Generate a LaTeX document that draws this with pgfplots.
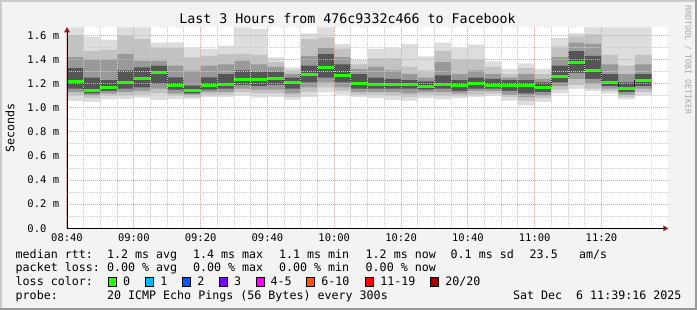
\documentclass[border=0pt]{standalone}
\usepackage{pgfplots}
\pgfplotsset{compat=1.18}
\usepackage{pgfplotstable}
\usepackage{fontspec}
\setmainfont{DejaVu Sans Mono}
\newfontfamily\mono{DejaVu Sans Mono}
\usetikzlibrary{arrows.meta}
\definecolor{bg}{HTML}{F3F3F3}
\definecolor{shadea}{HTML}{CBCBCB}
\definecolor{shadeb}{HTML}{999999}
\definecolor{cA}{HTML}{DDDDDD}
\definecolor{cB}{HTML}{C2C2C2}
\definecolor{cC}{HTML}{999999}
\definecolor{cD}{HTML}{555555}
\definecolor{medline}{HTML}{202020}
\definecolor{lgreen}{HTML}{26FF00}
\definecolor{lcyan}{HTML}{00B8FF}
\definecolor{lblue}{HTML}{0059FF}
\definecolor{lpurple}{HTML}{7E00FF}
\definecolor{lmag}{HTML}{FF00FF}
\definecolor{lorange}{HTML}{FF5500}
\definecolor{lred}{HTML}{FF0000}
\definecolor{ldred}{HTML}{A10000}
\definecolor{gridc}{HTML}{CCCCCC}
\definecolor{mgridc}{HTML}{EBA0A0}
\definecolor{arrowc}{HTML}{8B1A1A}
\definecolor{wm}{HTML}{A8A8A8}
\newcommand\lgf{\mono\fontsize{11.66}{14}\selectfont}
\newcommand\tkf{\mono\fontsize{10.5}{12}\selectfont}

\pgfplotstableread{
x   lo1   lo2  lo3  lo4  med   hi4   hi3   hi2   hi1
0   1.056 1.10 1.13 1.16 1.217 1.33  1.42  1.60  1.668
5   1.05  1.08 1.10 1.12 1.142 1.25  1.40  1.47  1.59
10  1.07  1.10 1.12 1.14 1.167 1.23  1.40  1.48  1.565
15  1.073 1.10 1.13 1.16 1.208 1.31  1.446 1.598 1.668
20  1.084 1.11 1.14 1.17 1.239 1.336 1.39  1.571 1.668
25  1.065 1.12 1.16 1.20 1.291 1.35  1.39  1.50  1.54
30  1.073 1.10 1.12 1.15 1.183 1.253 1.35  1.50  1.543
35  1.073 1.09 1.11 1.12 1.142 1.183 1.308 1.419 1.50
40  1.09  1.11 1.13 1.15 1.183 1.253 1.35  1.43  1.488
45  1.09  1.11 1.13 1.16 1.192 1.28  1.36  1.446 1.515
50  1.10  1.13 1.16 1.19 1.233 1.31  1.39  1.45  1.668
55  1.084 1.12 1.15 1.18 1.231 1.30  1.36  1.44  1.655
60  1.09  1.12 1.15 1.19 1.245 1.30  1.34  1.38  1.419
65  1.067 1.09 1.12 1.16 1.206 1.25  1.28  1.31  1.336
70  1.09  1.13 1.17 1.21 1.28  1.35  1.43  1.57  1.618
75  1.128 1.17 1.21 1.25 1.336 1.446 1.50  1.585 1.668
80  1.11  1.14 1.17 1.21 1.267 1.36  1.42  1.49  1.529
85  1.09  1.11 1.13 1.16 1.198 1.28  1.32  1.36  1.397
90  1.08  1.11 1.13 1.16 1.192 1.25  1.34  1.41  1.488
95  1.065 1.10 1.13 1.16 1.19  1.24  1.31  1.41  1.50
100 1.06  1.09 1.12 1.16 1.19  1.23  1.28  1.34  1.529
105 1.08  1.11 1.13 1.15 1.175 1.22  1.25  1.31  1.427
110 1.07  1.10 1.13 1.16 1.19  1.27  1.38  1.47  1.54
115 1.08  1.10 1.12 1.14 1.183 1.23  1.28  1.40  1.50
120 1.09  1.11 1.14 1.16 1.198 1.25  1.31  1.40  1.524
125 1.10  1.12 1.14 1.16 1.189 1.24  1.28  1.34  1.386
130 1.06  1.09 1.11 1.14 1.189 1.23  1.25  1.28  1.322
135 1.02  1.06 1.09 1.12 1.181 1.23  1.28  1.33  1.369
140 1.05  1.08 1.10 1.13 1.17  1.21  1.24  1.28  1.322
145 1.12  1.15 1.18 1.21 1.261 1.35  1.42  1.51  1.579
150 1.156 1.19 1.24 1.29 1.378 1.47  1.54  1.59  1.618
155 1.14  1.16 1.20 1.24 1.308 1.43  1.53  1.61  1.668
160 1.12  1.14 1.16 1.18 1.214 1.28  1.36  1.44  1.668
165 1.07  1.09 1.11 1.13 1.161 1.21  1.28  1.35  1.668
170 1.10  1.13 1.16 1.18 1.225 1.28  1.36  1.44  1.668
175 1.10  1.13 1.16 1.18 1.225 1.28  1.36  1.44  1.668
}\smoke

\begin{document}
\begin{tikzpicture}
\path[use as bounding box] (0pt,0pt) rectangle (697pt,-310pt);
\fill[bg] (0pt,0pt) rectangle (697pt,-310pt);
\fill[shadea] (0pt,0pt) rectangle (697pt,-2pt);
\fill[shadea] (0pt,0pt) rectangle (2pt,-310pt);
\fill[shadeb] (0pt,-308pt) rectangle (697pt,-310pt);
\fill[shadeb] (695pt,0pt) rectangle (697pt,-310pt);

\begin{axis}[
  at={(67pt,-228.3pt)}, anchor=south west,
  scale only axis, width=601.3pt, height=201pt,
  xmin=0, xmax=180, ymin=0, ymax=1.668,
  axis background/.style={fill=white},
  axis on top,
  axis lines=left,
  axis line style={line width=0.9pt, black, -{Triangle[length=5pt,width=5.5pt,color=arrowc]}},
  xtick={0,20,...,160},
  xticklabels={08:40,09:00,09:20,09:40,10:00,10:20,10:40,11:00,11:20},
  ytick={0,0.2,0.4,0.6,0.8,1.0,1.2,1.4,1.6},
  yticklabels={0.0\hphantom{\ m},0.2 m,0.4 m,0.6 m,0.8 m,1.0 m,1.2 m,1.4 m,1.6 m},
  minor x tick num=3, minor y tick num=1,
  tick align=inside, major tick length=0pt, minor tick length=0pt,
  grid=both,
  major grid style={mgridc, line width=1pt, dash pattern=on 1pt off 1pt},
  minor grid style={gridc, line width=1pt, dash pattern=on 1pt off 1pt},
  xticklabel style={font=\tkf, anchor=base, inner sep=0pt, yshift=-13.4pt},
  yticklabel style={font=\tkf, anchor=base east, inner sep=0pt, xshift=-7.7pt, yshift=-3.8pt},
  clip=true,
]
\addplot[const plot, fill=cA, draw=none] table[x=x,y=hi1]{\smoke} \closedcycle;
\addplot[const plot, fill=cB, draw=none] table[x=x,y=hi2]{\smoke} \closedcycle;
\addplot[const plot, fill=cC, draw=none] table[x=x,y=hi3]{\smoke} \closedcycle;
\addplot[const plot, fill=cD, draw=none] table[x=x,y=hi4]{\smoke} \closedcycle;
\addplot[const plot, fill=cC, draw=none] table[x=x,y=lo4]{\smoke} \closedcycle;
\addplot[const plot, fill=cB, draw=none] table[x=x,y=lo3]{\smoke} \closedcycle;
\addplot[const plot, fill=cA, draw=none] table[x=x,y=lo2]{\smoke} \closedcycle;
\addplot[const plot, fill=white, draw=none] table[x=x,y=lo1]{\smoke} \closedcycle;
\addplot[const plot, medline, line width=1pt] table[x=x,y=med]{\smoke};
\addplot[jump mark left, lgreen, line width=3pt] table[x=x,y=med]{\smoke};
\end{axis}

\node[anchor=base, inner sep=0pt] at (347.5pt,-24pt) {\mono\fontsize{13.3}{15}\selectfont Last 3 Hours from 476c9332c466 to Facebook};
\node[rotate=90, anchor=center, inner sep=0pt] at (10pt,-128pt) {\lgf Seconds};
\node[rotate=-90, anchor=center, inner sep=0pt, text=wm] at (688pt,-60pt) {\mono\fontsize{8.3}{9}\selectfont RRDTOOL / TOBI OETIKER};

\begin{scope}[every node/.style={anchor=base west, inner sep=0pt}]
\node at (15.5pt,-258.3pt) {\lgf median rtt:};
\node at (106.8pt,-258.3pt) {\lgf 1.2 ms avg};
\node at (192.8pt,-258.3pt) {\lgf 1.4 ms max};
\node at (278.8pt,-258.3pt) {\lgf 1.1 ms min};
\node at (365.5pt,-258.3pt) {\lgf 1.2 ms now};
\node at (450.5pt,-258.3pt) {\lgf 0.1 ms sd};
\node at (529.5pt,-258.3pt) {\lgf 23.5};
\node at (578.8pt,-258.3pt) {\lgf am/s};
\node at (15.5pt,-272pt) {\lgf packet loss:};
\node at (106.8pt,-272pt) {\lgf 0.00 \% avg};
\node at (192.8pt,-272pt) {\lgf 0.00 \% max};
\node at (278.8pt,-272pt) {\lgf 0.00 \% min};
\node at (365.5pt,-272pt) {\lgf 0.00 \% now};
\node at (15.5pt,-285.7pt) {\lgf loss color:};
\node at (122.8pt,-285.7pt) {\lgf 0};
\node at (160.2pt,-285.7pt) {\lgf 1};
\node at (197.2pt,-285.7pt) {\lgf 2};
\node at (233.8pt,-285.7pt) {\lgf 3};
\node at (270.5pt,-285.7pt) {\lgf 4-5};
\node at (321.2pt,-285.7pt) {\lgf 6-10};
\node at (380.2pt,-285.7pt) {\lgf 11-19};
\node at (445.2pt,-285.7pt) {\lgf 20/20};
\node at (15.5pt,-299.4pt) {\lgf probe:};
\node at (106.8pt,-299.4pt) {\lgf 20 ICMP Echo Pings (56 Bytes) every 300s};
\node at (512.8pt,-299.4pt) {\lgf Sat Dec\ \ 6 11:39:16 2025};
\end{scope}
\foreach \xx/\cc in {108.3/lgreen,145.7/lcyan,182.7/lblue,219.3/lpurple,256/lmag,306.7/lorange,365.7/lred,430.7/ldred}{
  \filldraw[fill=\cc, draw=black, line width=0.8pt] (\xx pt,-277.7pt) rectangle ++(8pt,-8.6pt);
}
\end{tikzpicture}
\end{document}
